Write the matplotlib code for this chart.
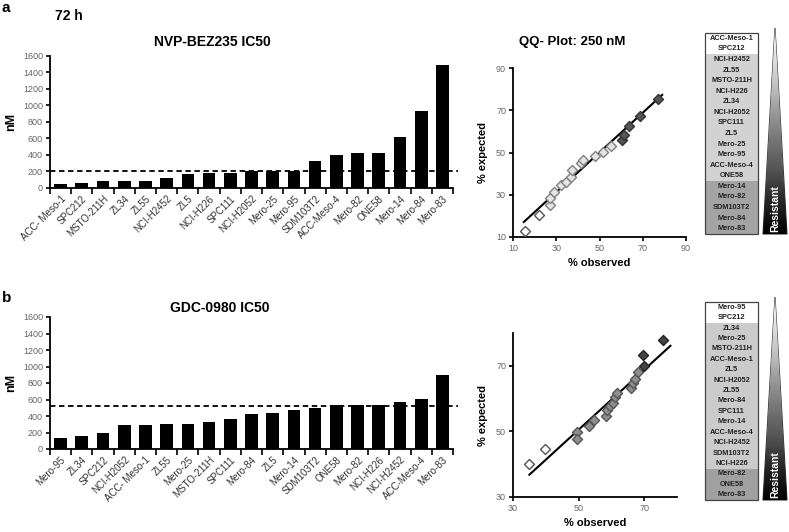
import numpy as np
import matplotlib
matplotlib.use('Agg')
import matplotlib.pyplot as plt
from matplotlib.patches import Polygon, Rectangle

plt.rcParams['font.family'] = ['Liberation Sans', 'DejaVu Sans']

# panel a: NVP-BEZ235 IC50 (nM) after 72 h
cells_a = ['ACC- Meso-1', 'SPC212', 'MSTO-211H', 'ZL34', 'ZL55', 'NCI-H2452', 'ZL5',
           'NCI-H226', 'SPC111', 'NCI-H2052', 'Mero-25', 'Mero-95', 'SDM103T2',
           'ACC-Meso-4', 'Mero-82', 'ONE58', 'Mero-14', 'Mero-84', 'Mero-83']
ic50_a = [45, 65, 85, 85, 85, 120, 166, 182, 182, 206, 206, 206, 328,
          405, 425, 425, 620, 932, 1490]
cut_a = 210

# panel b: GDC-0980 IC50 (nM)
cells_b = ['Mero-95', 'ZL34', 'SPC212', 'NCI-H2052', 'ACC- Meso-1', 'ZL55', 'Mero-25',
           'MSTO-211H', 'SPC111', 'Mero-84', 'ZL5', 'Mero-14', 'SDM103T2', 'ONE58',
           'Mero-82', 'NCI-H226', 'NCI-H2452', 'ACC-Meso-4', 'Mero-83']
ic50_b = [137, 161, 193, 286, 286, 306, 306, 326, 359, 419, 435, 476, 500,
          528, 528, 528, 568, 605, 903]
cut_b = 524

# QQ plots (% observed vs % expected), group 0 = sensitive, 1 = mid, 2 = resistant
obs_a = [15.4, 21.8, 27, 27, 29, 32.3, 34.6, 37, 37.4, 41.5, 42.3, 47.7, 51.8, 55.4,
         60.5, 61.2, 63.8, 68.9, 76.9]
exp_a = [12.7, 20.2, 25.2, 28.4, 31.5, 34.6, 36.2, 38.6, 41.7, 44.8, 46.4, 48.3, 50.3, 53,
         55.8, 58.2, 62.4, 67.3, 75.1]
grp_a = [0, 0] + [1] * 12 + [2] * 5
fit_xa = [15, 79]
fit_ya = [17.1, 77.3]

obs_b = [34.9, 39.7, 49.5, 49.5, 53.1, 54.8, 58.4, 58.7, 59.7, 60.6, 61, 61.6,
         65.9, 66.7, 67.2, 68.2, 70, 69.7, 75.6]
exp_b = [40.2, 44.7, 49.7, 47.8, 51.7, 53.4, 54.8, 56.4, 57.6, 58.8, 60.5, 61.7,
         63.1, 64.7, 66, 68, 70, 73.2, 77.9]
grp_b = [0, 0] + [1] * 14 + [2] * 3
fit_xb = [35, 78]
fit_yb = [36.8, 76.1]

# ranking tables
rank_a = ['ACC-Meso-1', 'SPC212', 'NCI-H2452', 'ZL55', 'MSTO-211H', 'NCI-H226', 'ZL34',
          'NCI-H2052', 'SPC111', 'ZL5', 'Mero-25', 'Mero-95', 'ACC-Meso-4', 'ONE58',
          'Mero-14', 'Mero-82', 'SDM103T2', 'Mero-84', 'Mero-83']
rank_b = ['Mero-95', 'SPC212', 'ZL34', 'Mero-25', 'MSTO-211H', 'ACC-Meso-1', 'ZL5',
          'NCI-H2052', 'ZL55', 'Mero-84', 'SPC111', 'Mero-14', 'ACC-Meso-4', 'NCI-H2452',
          'SDM103T2', 'NCI-H226', 'Mero-82', 'ONE58', 'Mero-83']

W, H = 789, 532
fig = plt.figure(figsize=(W / 100, H / 100), dpi=100)

# overlay in pixel coords for the tables, triangles and loose labels
ov = fig.add_axes([0, 0, 1, 1])
ov.set_xlim(0, W)
ov.set_ylim(H, 0)
ov.axis('off')


def px(x0, y0, x1, y1):
    return [x0 / W, 1 - y1 / H, (x1 - x0) / W, (y1 - y0) / H]


def bar_panel(rect, cells, vals, cut):
    ax = fig.add_axes(rect)
    x = np.arange(len(cells))
    ax.bar(x, vals, width=0.6, color='black')
    ax.axhline(cut, color='black', lw=1.3, ls=(0, (3, 2)), clip_on=False,
               xmax=1.012)
    ax.set_xlim(-0.5, len(cells) - 0.5)
    ax.set_ylim(0, 1600)
    ax.set_yticks(range(0, 1601, 200))
    ax.set_xticks(x)
    ax.set_xticklabels(cells, rotation=45, ha='right', rotation_mode='anchor',
                       fontsize=7, color='#333333')
    ax.set_xticks(np.arange(-0.5, len(cells), 1), minor=True)
    ax.tick_params(axis='x', which='major', length=0, pad=4)
    ax.tick_params(axis='x', which='minor', length=4, width=1.2, direction='out')
    ax.tick_params(axis='y', length=3, width=1.2, labelsize=6.5, labelcolor='#666666', pad=2)
    for s in ['top', 'right']:
        ax.spines[s].set_visible(False)
    for s in ['left', 'bottom']:
        ax.spines[s].set_linewidth(1.3)
    ax.set_ylabel('nM', fontsize=9, fontweight='bold', labelpad=4)
    return ax


def qq_panel(rect, obs, exp, grp, fx, fy, lim, ticks):
    ax = fig.add_axes(rect)
    fills = ['white', '#e4e4e4', '#555555']
    edges = ['#555555', '#808080', '#333333']
    if lim[0] == 30:
        fills = ['white', '#8e8e8e', '#444444']
        edges = ['#555555', '#555555', '#222222']
    obs = np.array(obs)
    exp = np.array(exp)
    grp = np.array(grp)
    ax.plot(fx, fy, color='black', lw=1.5, zorder=2)
    for g in range(3):
        m = grp == g
        ax.scatter(obs[m], exp[m], marker='D', s=26, facecolor=fills[g],
                   edgecolor=edges[g], lw=1.0, zorder=3)
    ax.set_xlim(lim)
    ax.set_ylim(lim)
    ax.set_xticks(ticks)
    ax.set_yticks(ticks)
    ax.tick_params(length=3, width=1.2, labelsize=6.5, labelcolor='#666666', pad=2)
    for s in ['top', 'right']:
        ax.spines[s].set_visible(False)
    for s in ['left', 'bottom']:
        ax.spines[s].set_linewidth(1.3)
    ax.set_xlabel('% observed', fontsize=8, fontweight='bold', labelpad=4)
    ax.set_ylabel('% expected', fontsize=8, fontweight='bold', labelpad=6)
    return ax


def rank_table(names, y0, y1, n_white, n_dark, light, dark):
    x0, x1 = 705, 758
    h = (y1 - y0) / len(names)
    for i, name in enumerate(names):
        if i < n_white:
            c = 'white'
        elif i >= len(names) - n_dark:
            c = dark
        else:
            c = light
        ov.add_patch(Rectangle((x0, y0 + i * h), x1 - x0, h, facecolor=c, edgecolor='none'))
        ov.text((x0 + x1) / 2, y0 + (i + 0.5) * h, name, ha='center', va='center',
                fontsize=5.3, fontweight='bold', color='#222222')
    ov.add_patch(Rectangle((x0, y0), x1 - x0, y1 - y0, facecolor='none',
                           edgecolor='#444444', lw=0.9))
    # gradient wedge
    tip, base = y0 - 5, y1
    tri = Polygon([(775, tip), (763, base), (787, base)], closed=True,
                  facecolor='none', edgecolor='#333333', lw=0.8)
    ov.add_patch(tri)
    grad = np.linspace(0, 1, 200) ** 0.8
    im = ov.imshow(grad[:, None], cmap='Greys', aspect='auto',
                   extent=(763, 787, base, tip), vmin=0, vmax=1, zorder=1)
    im.set_clip_path(tri)
    ov.text(775, base - 25, 'Resistant', rotation=90, ha='center', va='center',
            fontsize=7.5, fontweight='bold', color='white', zorder=3)


bar_panel(px(50, 56, 453, 188), cells_a, ic50_a, cut_a)
bar_panel(px(50, 317, 453, 449), cells_b, ic50_b, cut_b)
qq_panel(px(513, 68, 686, 237), obs_a, exp_a, grp_a, fit_xa, fit_ya, (10, 90),
         [10, 30, 50, 70, 90])
qq_panel(px(513, 333, 677, 497), obs_b, exp_b, grp_b, fit_xb, fit_yb, (30, 80),
         [30, 50, 70])

rank_table(rank_a, 33, 234, 2, 5, '#d2d2d2', '#a4a4a4')
rank_table(rank_b, 302, 500, 2, 3, '#cbcbcb', '#a0a0a0')

ov.text(2, 8, 'a', fontsize=11, fontweight='bold', va='center')
ov.text(55, 16, '72 h', fontsize=10, fontweight='bold', va='center')
ov.text(2, 298, 'b', fontsize=11, fontweight='bold', va='center')
ov.text(212, 42, 'NVP-BEZ235 IC50', fontsize=10, fontweight='bold', ha='center', va='center')
ov.text(220, 308, 'GDC-0980 IC50', fontsize=10, fontweight='bold', ha='center', va='center')
ov.text(572, 42, 'QQ- Plot: 250 nM', fontsize=9.5, fontweight='bold', ha='center', va='center')

fig.savefig('out.png', dpi=100)
